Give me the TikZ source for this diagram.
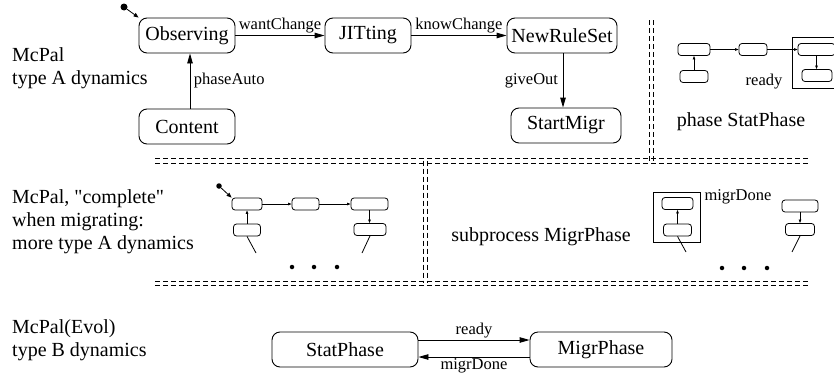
\documentclass[tikz,border=0pt]{standalone}
\usepackage{fontspec}
\setmainfont{Liberation Serif}
\usetikzlibrary{arrows.meta}
\begin{document}
\begin{tikzpicture}[x=1pt,y=-1pt,
  big/.style={draw, rounded corners=8pt, line width=0.9pt, inner sep=0pt, font=\fontsize{20}{23}\selectfont, minimum height=35pt},
  sm/.style={draw, rounded corners=3pt, line width=0.8pt, inner sep=0pt, minimum height=12pt},
  frame/.style={draw, line width=0.9pt, inner sep=0pt},
  lbl/.style={font=\fontsize{16.5}{19}\selectfont, inner sep=1.5pt},
  side/.style={font=\fontsize{20}{23}\selectfont, align=left, anchor=west, inner sep=0pt},
  plain/.style={font=\fontsize{20}{23}\selectfont, inner sep=0pt},
  arr/.style={-{Triangle[length=10pt,width=5.5pt]}, line width=0.9pt},
  iarr/.style={-{Triangle[length=5pt,width=4pt]}, line width=0.8pt},
  sarr/.style={-{Triangle[length=3.5pt,width=2.5pt]}, line width=0.7pt},
  sline/.style={line width=0.8pt},
  dd/.style={line width=0.6pt, dash pattern=on 5pt off 3pt},
  dot/.style={circle, fill, inner sep=0pt, minimum size=#1},
]
\useasboundingbox (0,0) rectangle (834,380);
\clip (0,0) rectangle (834,380);

% ---------- side texts ----------
\node[side] (ta) at (12,68.5) {McPal\\type A dynamics};
\node[side] (tb) at (12,222) {McPal, \textquotedbl complete\textquotedbl\\when migrating:\\more type A dynamics};
\node[side] (tc) at (12,340.5) {McPal(Evol)\\type B dynamics};

% ---------- top diagram ----------
\node[big, minimum width=96pt] (obs) at (187,35.5) {Observing};
\node[big, minimum width=86pt] (jit) at (368,35.5) {JITting};
\node[big, minimum width=110pt] (nrs) at (562,35.5) {NewRuleSet};
\node[big, minimum width=96pt] (con) at (187,126.5) {Content};
\node[big, minimum width=110pt] (smg) at (566,125.5) {StartMigr};
\node[dot=7pt] (i0) at (124,7) {};
\draw[iarr] (i0) -- (obs.north west);
\draw[arr] (obs) -- (jit) node[lbl, midway, above] {wantChange};
\draw[arr] (jit) -- (nrs) node[lbl, midway, above] {knowChange};
\draw[arr] ([xshift=3pt]con.north) -- ([xshift=3pt]obs.south) node[lbl, midway, right=2pt] {phaseAuto};
\draw[arr] ([xshift=1pt]nrs.south) -- ([xshift=1pt]nrs.south |- smg.north) node[lbl, midway, left=3pt] {giveOut};

% ---------- top-right miniature ----------
\node[frame, minimum width=54pt, minimum height=51pt] (tsq) at (819,62.5) {};
\node[sm, minimum width=32pt] (t1) at (694,49.5) {};
\node[sm, minimum width=28pt] (t2) at (694,76.5) {};
\node[sm, minimum width=28pt] (t3) at (753,49.5) {};
\node[sm, minimum width=37pt] (t4) at (816.5,49.5) {};
\node[sm, minimum width=30pt] (t5) at (817,75.5) {};
\draw[sarr] (t2) -- (t1);
\draw[sarr] (t1) -- (t3);
\draw[sarr] (t3) -- (t4);
\draw[sarr] (t4.south) -- (t4.south |- t5.north);
\node[lbl] (tready) at (764,82) {ready};
\node[plain] (sph) at (741,122) {phase StatPhase};

% ---------- middle-left miniature ----------
\node[sm, minimum width=30pt] (m1) at (247,204) {};
\node[sm, minimum width=27pt] (m2) at (247,230) {};
\node[sm, minimum width=27pt] (m3) at (305.5,204) {};
\node[sm, minimum width=37pt] (m4) at (369.5,204) {};
\node[sm, minimum width=32pt] (m5) at (370,229.5) {};
\node[dot=5.5pt] (mi) at (219,186) {};
\draw[iarr] (mi) -- (m1.north west);
\draw[sarr] (m2) -- (m1);
\draw[sarr] (m1) -- (m3);
\draw[sarr] (m3) -- (m4);
\draw[sarr] (m4.south) -- (m4.south |- m5.north);
\coordinate (me1) at (256,253);
\coordinate (me2) at (362,253);
\draw[sline] (m2.south) -- (me1);
\draw[sline] (m5.south) -- (me2);
\node[dot=4.5pt] (md1) at (292,267) {};
\node[dot=4.5pt] (md2) at (314,267) {};
\node[dot=4.5pt] (md3) at (337,267) {};

% ---------- middle-right miniature ----------
\node[plain] (smp) at (541,237) {subprocess MigrPhase};
\node[frame, minimum width=47pt, minimum height=50pt] (rsq) at (676.5,217) {};
\node[sm, minimum width=31pt] (r1) at (677.5,203.5) {};
\node[sm, minimum width=28pt] (r2) at (677.5,230) {};
\node[sm, minimum width=36pt] (r3) at (800,206) {};
\node[sm, minimum width=29pt] (r4) at (800,229.5) {};
\draw[sarr] (r2) -- (r1);
\draw[sarr] (r3) -- (r4);
\coordinate (re1) at (686,252);
\coordinate (re2) at (792,252);
\draw[sline] (r2.south) -- (re1);
\draw[sline] (r4.south) -- (re2);
\node[lbl] (rmd) at (738,197) {migrDone};
\node[dot=4.5pt] (rd1) at (722,268) {};
\node[dot=4.5pt] (rd2) at (744,268) {};
\node[dot=4.5pt] (rd3) at (767,268) {};

% ---------- bottom diagram ----------
\node[big, minimum width=146pt] (sp) at (345,349.5) {StatPhase};
\node[big, minimum width=142pt] (mp) at (601,349.5) {MigrPhase};
\draw[arr] ([yshift=9.5pt]sp.east) -- ([yshift=9.5pt]mp.west) node[lbl, midway, above] {ready};
\draw[arr] ([yshift=-7.5pt]mp.west) -- ([yshift=-7.5pt]sp.east) node[lbl, midway, below] {migrDone};

% ---------- dividers ----------
\draw[dd] (155,158) -- (808,158);
\draw[dd] (155,163) -- (808,163);
\draw[dd] (155,281) -- (808,281);
\draw[dd] (155,285.5) -- (808,285.5);
\draw[dd] (649,20) -- (649,160.5);
\draw[dd] (653.5,20) -- (653.5,160.5);
\draw[dd] (423,160.5) -- (423,283);
\draw[dd] (427.5,160.5) -- (427.5,283);
\end{tikzpicture}
\end{document}
